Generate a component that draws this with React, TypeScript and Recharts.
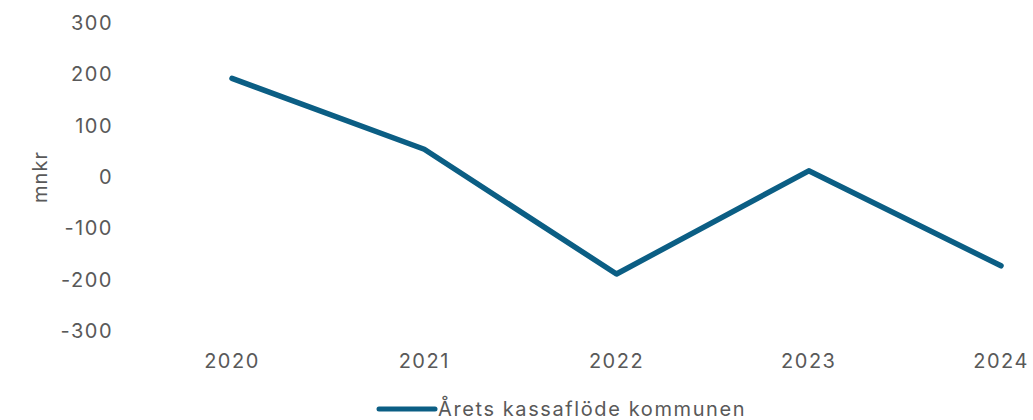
import { LineChart, Line, XAxis, YAxis, Legend } from 'recharts';

// Årets kassaflöde kommunen, mnkr
const years = ['2020', '2021', '2022', '2023', '2024'];
const cashFlow = [192, 54, -189, 12, -173];
const yTicks = [-300, -200, -100, 0, 100, 200, 300];

const seriesName = 'Årets kassaflöde kommunen';
const lineColor = '#0b5e84';
const textColor = '#595959';
const font = 'Inter, "Noto Sans", sans-serif';

const data = years.map((year, i) => ({ year, value: cashFlow[i] }));

const renderLegend = () => (
  <div style={{ display: 'flex', alignItems: 'center', fontFamily: font, fontSize: 20, color: textColor, letterSpacing: 1.6 }}>
    <svg width={62} height={10}>
      <line x1={3} y1={5} x2={59} y2={5} stroke={lineColor} strokeWidth={5} strokeLinecap="round" />
    </svg>
    <span>{seriesName}</span>
  </div>
);

const renderYLabel = (props: any) => {
  const vb = props.viewBox;
  const cx = vb.x + 47;
  const cy = vb.y + vb.height / 2;
  return (
    <text
      x={cx}
      y={cy}
      transform={`rotate(-90, ${cx}, ${cy})`}
      textAnchor="middle"
      fill={textColor}
      fontSize={20}
      fontFamily={font}
      letterSpacing={1}
    >
      mnkr
    </text>
  );
};

export default function App() {
  return (
    <div style={{ position: 'absolute', left: 0, top: 0, background: '#fff' }}>
      <LineChart width={1033} height={420} data={data} margin={{ top: 23, right: 32, bottom: 59, left: 0 }}>
        <XAxis
          dataKey="year"
          axisLine={false}
          tickLine={false}
          tickSize={0}
          tickMargin={23}
          height={30}
          padding={{ left: 117, right: 0 }}
          tick={{ fill: textColor, fontSize: 20, fontFamily: font, letterSpacing: 1.5 }}
        />
        <YAxis
          domain={[-300, 300]}
          ticks={yTicks}
          width={115}
          axisLine={false}
          tickLine={false}
          tickSize={0}
          tickMargin={2}
          interval={0}
          tick={{ fill: textColor, fontSize: 20, fontFamily: font, letterSpacing: 1.5 }}
          label={{ content: renderYLabel }}
        />
        <Legend
          verticalAlign="middle"
          align="center"
          content={renderLegend}
          wrapperStyle={{ left: 376, top: 397, width: 'auto' }}
        />
        <Line
          type="linear"
          dataKey="value"
          name={seriesName}
          stroke={lineColor}
          strokeWidth={5.5}
          strokeLinecap="round"
          strokeLinejoin="round"
          dot={false}
          activeDot={false}
          isAnimationActive={false}
        />
      </LineChart>
    </div>
  );
}
